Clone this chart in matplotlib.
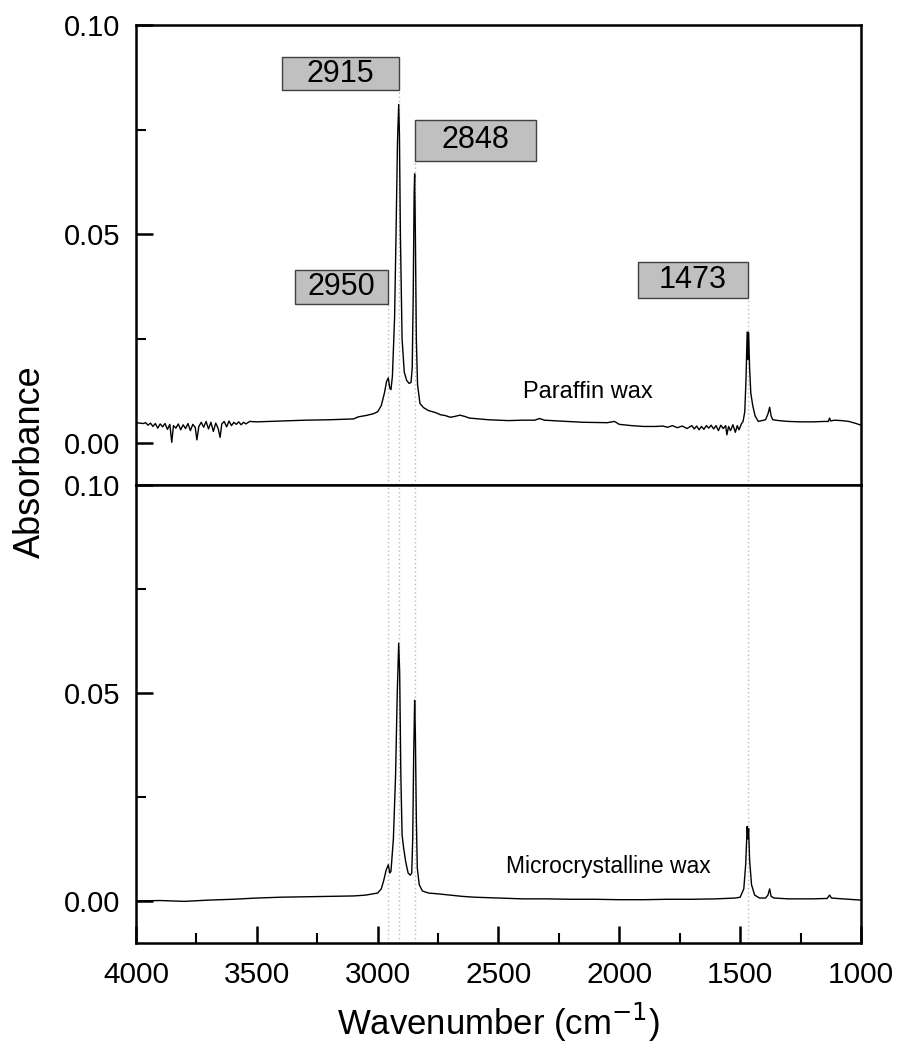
import matplotlib
matplotlib.use("Agg")
import matplotlib.pyplot as plt
from matplotlib.patches import Rectangle
from matplotlib.ticker import MultipleLocator

plt.rcParams['font.family'] = ['Liberation Sans', 'DejaVu Sans']

# ---------------- data ----------------
paraffin_wn = [4000, 3985, 3970, 3960, 3950, 3940, 3930, 3920, 3910, 3900, 3890, 3880, 3870, 3860,
               3852, 3845, 3835, 3825, 3815, 3805, 3795, 3785, 3775, 3765, 3755, 3748, 3740, 3730,
               3720, 3710, 3700, 3690, 3680, 3670, 3660, 3652, 3645, 3635, 3625, 3615, 3605, 3595,
               3585, 3575, 3565, 3555, 3545, 3530, 3500, 3400, 3300, 3200, 3150, 3100, 3080, 3050,
               3020, 3000, 2985, 2972, 2963, 2956, 2950, 2945, 2939, 2930, 2924, 2918, 2913, 2910,
               2906, 2899, 2890, 2880, 2870, 2862, 2857, 2853, 2849, 2847, 2844, 2840, 2835, 2825,
               2810, 2790, 2760, 2740, 2720, 2700, 2680, 2660, 2640, 2620, 2580, 2540, 2500, 2460,
               2400, 2350, 2330, 2310, 2250, 2150, 2050, 2020, 2000, 1950, 1900, 1850, 1820, 1800,
               1780, 1760, 1740, 1720, 1700, 1690, 1680, 1670, 1660, 1650, 1640, 1630, 1620, 1610,
               1600, 1590, 1580, 1570, 1560, 1555, 1548, 1540, 1530, 1520, 1512, 1505, 1495, 1488,
               1481, 1476, 1471, 1468, 1465, 1461, 1456, 1448, 1438, 1425, 1410, 1395, 1385, 1378,
               1372, 1365, 1340, 1300, 1250, 1200, 1150, 1135, 1130, 1125, 1110, 1080, 1050, 1020,
               1000]
paraffin_abs = [0.0049, 0.0048, 0.0047, 0.0049, 0.0043, 0.0048, 0.0040, 0.0047, 0.0036, 0.0046,
                0.0039, 0.0047, 0.0033, 0.0045, 0.0002, 0.0042, 0.0036, 0.0046, 0.0032, 0.0044,
                0.0035, 0.0047, 0.0030, 0.0045, 0.0038, 0.0008, 0.0040, 0.0050, 0.0038, 0.0052,
                0.0034, 0.0050, 0.0028, 0.0048, 0.0035, 0.0014, 0.0046, 0.0052, 0.0039, 0.0053,
                0.0042, 0.0050, 0.0045, 0.0051, 0.0044, 0.0050, 0.0046, 0.0052, 0.0051, 0.0053,
                0.0055, 0.0056, 0.0057, 0.0058, 0.0063, 0.0066, 0.0070, 0.0075, 0.0090, 0.0120,
                0.0148, 0.0156, 0.0132, 0.0128, 0.0160, 0.0300, 0.0500, 0.0720, 0.0810, 0.0740,
                0.0500, 0.0250, 0.0170, 0.0150, 0.0143, 0.0145, 0.0180, 0.0350, 0.0600, 0.0644,
                0.0500, 0.0250, 0.0140, 0.0095, 0.0085, 0.0078, 0.0073, 0.0068, 0.0066, 0.0062,
                0.0064, 0.0067, 0.0064, 0.0060, 0.0058, 0.0056, 0.0055, 0.0054, 0.0055, 0.0055,
                0.0059, 0.0055, 0.0053, 0.0050, 0.0049, 0.0052, 0.0045, 0.0042, 0.0040, 0.0040,
                0.0041, 0.0038, 0.0042, 0.0037, 0.0041, 0.0035, 0.0042, 0.0034, 0.0041, 0.0032,
                0.0040, 0.0033, 0.0042, 0.0036, 0.0043, 0.0034, 0.0042, 0.0030, 0.0043, 0.0035,
                0.0042, 0.0020, 0.0040, 0.0030, 0.0044, 0.0026, 0.0042, 0.0032, 0.0046, 0.0052,
                0.0075, 0.0150, 0.0266, 0.0200, 0.0265, 0.0180, 0.0120, 0.0090, 0.0065, 0.0052,
                0.0054, 0.0056, 0.0070, 0.0086, 0.0065, 0.0056, 0.0054, 0.0052, 0.0051, 0.0051,
                0.0052, 0.0052, 0.0060, 0.0053, 0.0055, 0.0054, 0.0052, 0.0047, 0.0043]

micro_wn = [4000, 3900, 3800, 3700, 3600, 3500, 3400, 3300, 3200, 3100, 3050, 3000, 2985, 2975,
            2965, 2956, 2950, 2945, 2935, 2926, 2919, 2913, 2909, 2904, 2899, 2893, 2884, 2874,
            2865, 2859, 2855, 2851, 2847, 2844, 2840, 2836, 2828, 2815, 2790, 2750, 2700, 2650,
            2600, 2500, 2400, 2300, 2200, 2100, 2000, 1900, 1800, 1700, 1600, 1520, 1500, 1485,
            1477, 1471, 1468, 1465, 1461, 1453, 1440, 1420, 1395, 1385, 1378, 1372, 1360, 1300,
            1200, 1140, 1130, 1122, 1100, 1050, 1000]
micro_abs = [0.0001, 0.0002, 0.0000, 0.0003, 0.0005, 0.0008, 0.0010, 0.0011, 0.0012, 0.0013,
             0.0015, 0.0020, 0.0030, 0.0050, 0.0075, 0.0088, 0.0068, 0.0072, 0.0150, 0.0300,
             0.0500, 0.0620, 0.0550, 0.0300, 0.0160, 0.0130, 0.0095, 0.0068, 0.0063, 0.0068,
             0.0150, 0.0350, 0.0483, 0.0400, 0.0200, 0.0080, 0.0040, 0.0025, 0.0020, 0.0018,
             0.0015, 0.0012, 0.0010, 0.0008, 0.0006, 0.0006, 0.0005, 0.0005, 0.0004, 0.0004,
             0.0005, 0.0005, 0.0006, 0.0008, 0.0010, 0.0030, 0.0090, 0.0180, 0.0150, 0.0175,
             0.0100, 0.0040, 0.0015, 0.0008, 0.0008, 0.0015, 0.0030, 0.0012, 0.0008, 0.0006,
             0.0006, 0.0007, 0.0015, 0.0008, 0.0007, 0.0005, 0.0003]

# peak labels: text, marker line position, box extent (wn from, wn to), box y range
label_texts = ["2915", "2848", "2950", "1473"]
label_line_wn = [2912, 2846, 2957, 1468]
label_box_wn = [(3396, 2912), (2846, 2345), (3342, 2957), (1923, 1468)]
label_box_y = [(0.0845, 0.0923), (0.0675, 0.0773), (0.0333, 0.0414), (0.0347, 0.0433)]

sample_names = ["Paraffin wax", "Microcrystalline wax"]
sample_text_pos = [(2130, 0.0122), (2047, 0.0084)]

x_major_ticks = [4000, 3500, 3000, 2500, 2000, 1500, 1000]
y_major_ticks = [0.00, 0.05, 0.10]

# ---------------- figure ----------------
fig = plt.figure(figsize=(8.98, 10.51), dpi=100)
L, W = 136 / 898, (861 - 136) / 898
ax_top = fig.add_axes([L, 1 - 485 / 1051, W, 460 / 1051])
ax_bot = fig.add_axes([L, 1 - 943 / 1051, W, 458 / 1051], sharex=ax_top)

line_kw = dict(color='black', lw=1.0)
ax_top.plot(paraffin_wn, paraffin_abs, **line_kw)
ax_bot.plot(micro_wn, micro_abs, **line_kw)

for ax in (ax_top, ax_bot):
    ax.set_xlim(4000, 1000)
    ax.set_ylim(-0.01, 0.10)
    ax.set_yticks(y_major_ticks)
    ax.set_yticklabels(["0.00", "0.05", "0.10"])
    ax.yaxis.set_minor_locator(MultipleLocator(0.025))
    ax.tick_params(axis='y', which='major', direction='in', length=12, width=1.8,
                   labelsize=21, pad=11.5, right=False)
    ax.tick_params(axis='y', which='minor', direction='in', length=7, width=1.5, right=False)
    for s in ax.spines.values():
        s.set_linewidth(1.8)

ax_top.tick_params(axis='x', which='both', bottom=False, top=False, labelbottom=False)
ax_bot.set_xticks(x_major_ticks)
ax_bot.xaxis.set_minor_locator(MultipleLocator(250))
ax_bot.tick_params(axis='x', which='major', direction='in', length=12, width=1.8,
                   labelsize=21.5, pad=13, top=False)
ax_bot.tick_params(axis='x', which='minor', direction='in', length=7, width=1.5, top=False)

# dotted marker lines and label boxes
for txt, lw_, (b0, b1), (y0, y1) in zip(label_texts, label_line_wn, label_box_wn, label_box_y):
    ax_top.plot([lw_, lw_], [-0.01, y0], ls=(0, (1, 2)), color='#b8b8b8', lw=1.0, zorder=1)
    ax_bot.plot([lw_, lw_], [-0.01, 0.10], ls=(0, (1, 2)), color='#b8b8b8', lw=1.0, zorder=1)
    ax_top.add_patch(Rectangle((min(b0, b1), y0), abs(b1 - b0), y1 - y0,
                               facecolor='#c0c0c0', edgecolor='#404040', lw=1.0, zorder=3))
    ax_top.text((b0 + b1) / 2, (y0 + y1) / 2, txt, ha='center', va='center',
                fontsize=22, zorder=4)

ax_top.text(*sample_text_pos[0], sample_names[0], ha='center', va='center', fontsize=17)
ax_bot.text(*sample_text_pos[1], sample_names[1], ha='center', va='center', fontsize=16.5)

fig.text(30 / 898, 1 - 462 / 1051, "Absorbance", rotation=90, ha='center', va='center',
         fontsize=26)
fig.text(498 / 898, 1 - 1022 / 1051, "Wavenumber (cm$^{-1}$)", ha='center', va='center',
         fontsize=25)

fig.savefig("out.png", dpi=100)
